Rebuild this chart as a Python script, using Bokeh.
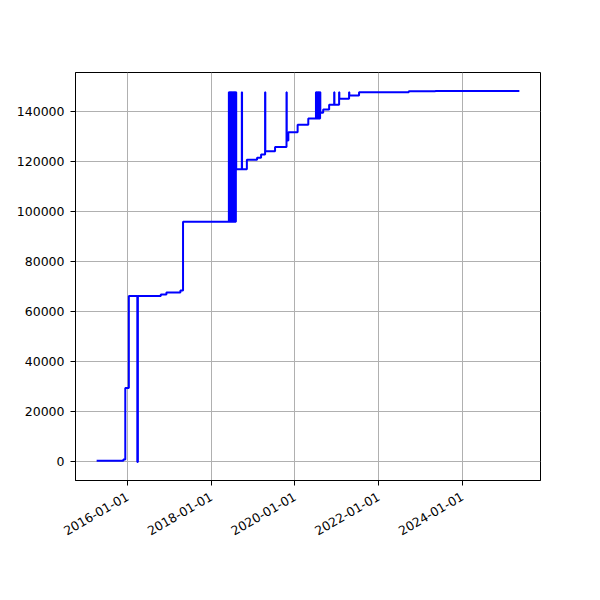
import math
import pandas as pd
from bokeh.plotting import figure
from bokeh.models import FixedTicker, DatetimeTickFormatter, Range1d, BasicTickFormatter
from bokeh.embed import file_html
from bokeh.resources import INLINE

# --- data ---
dates = [
    "2015-04-06", "2015-11-25", "2015-12-12", "2016-01-12",
    "2016-03-26", "2016-03-31",
    "2016-10-17", "2016-12-05", "2017-04-06", "2017-04-29",
    "2018-06-03", "2018-06-05", "2018-06-08", "2018-06-10", "2018-06-13", "2018-06-15",
    "2018-06-18", "2018-06-20", "2018-06-23", "2018-06-25", "2018-06-28", "2018-06-30",
    "2018-07-03", "2018-07-05", "2018-07-08", "2018-07-10", "2018-07-13", "2018-07-15",
    "2018-07-18", "2018-07-20", "2018-07-23", "2018-07-25", "2018-07-28", "2018-07-30",
    "2018-08-03", "2018-08-06",
    "2018-09-24", "2018-09-26",
    "2018-11-07", "2019-02-04", "2019-03-11",
    "2019-04-15", "2019-04-17",
    "2019-07-11",
    "2019-10-19", "2019-10-21", "2019-11-04",
    "2020-01-24", "2020-04-26",
    "2020-07-02", "2020-07-04", "2020-07-08", "2020-07-10", "2020-07-14", "2020-07-16",
    "2020-07-20", "2020-07-22", "2020-07-26", "2020-07-28", "2020-08-01", "2020-08-03",
    "2020-08-07", "2020-08-09",
    "2020-09-03", "2020-10-25",
    "2020-12-08", "2020-12-10",
    "2021-01-20", "2021-01-22",
    "2021-04-17", "2021-04-19",
    "2021-07-13", "2022-09-20", "2023-05-10", "2025-05-12",
]
values = [
    500, 1000, 29500, 66300,
    0, 66300,
    66900, 67700, 68500, 96000,
    147700, 96000, 147700, 96000, 147700, 96000,
    147700, 96000, 147700, 96000, 147700, 96000,
    147700, 96000, 147700, 96000, 147700, 96000,
    147700, 96000, 147700, 96000, 147700, 96000,
    147700, 117000,
    147700, 117000,
    120700, 121500, 122800,
    147700, 124100,
    125800,
    147700, 128400, 131700,
    134700, 137200,
    147700, 137200, 147700, 137200, 147700, 137200,
    147700, 137200, 147700, 137200, 147700, 137200,
    147700, 139500,
    140800, 142700,
    147700, 142700,
    147700, 145100,
    147700, 146400,
    147700, 148100, 148200, 148200,
]
tick_labels = ["2016-01-01", "2018-01-01", "2020-01-01", "2022-01-01", "2024-01-01"]
y_ticks = [0, 20000, 40000, 60000, 80000, 100000, 120000, 140000]

x = pd.to_datetime(dates)
tick_ms = [pd.Timestamp(t).value / 1e6 for t in tick_labels]

x0 = x.min().value / 1e6
x1 = x.max().value / 1e6
xpad = (x1 - x0) * 0.05
ymin, ymax = min(values), max(values)
ypad = (ymax - ymin) * 0.05

p = figure(
    x_axis_type="datetime",
    output_backend="svg",
    toolbar_location=None,
    width=584, height=584,
    frame_width=465, frame_height=408,
    min_border_left=75, min_border_right=44,
    min_border_top=72, min_border_bottom=104,
    x_range=Range1d(x0 - xpad, x1 + xpad),
    y_range=Range1d(ymin - ypad, ymax + ypad),
)
p.background_fill_color = "white"
p.border_fill_color = "white"
p.outline_line_color = "black"
p.outline_line_width = 1

p.step(x, values, mode="after", line_color="#0000ff", line_width=2)

p.xaxis.ticker = FixedTicker(ticks=tick_ms)
p.xaxis.formatter = DatetimeTickFormatter(
    days="%Y-%m-%d", months="%Y-%m-%d", years="%Y-%m-%d",
    hours="%Y-%m-%d", minutes="%Y-%m-%d", seconds="%Y-%m-%d",
    milliseconds="%Y-%m-%d", microseconds="%Y-%m-%d",
)
p.xaxis.major_label_orientation = math.pi / 6
p.xaxis.major_label_standoff = 10
p.yaxis.ticker = FixedTicker(ticks=y_ticks)
p.yaxis.formatter = BasicTickFormatter(use_scientific=False)
p.yaxis.major_label_standoff = 6

for ax in (p.xaxis, p.yaxis):
    ax.axis_line_color = "black"
    ax.major_tick_line_color = "black"
    ax.major_tick_in = 0
    ax.major_tick_out = 5
    ax.minor_tick_line_color = None
    ax.major_label_text_font = "DejaVu Sans"
    ax.major_label_text_font_size = "12.5px"
    ax.major_label_text_color = "black"

p.xgrid.ticker = FixedTicker(ticks=tick_ms)
p.ygrid.ticker = FixedTicker(ticks=y_ticks)
p.grid.grid_line_color = "#b0b0b0"
p.grid.grid_line_width = 1

open("out.html", "w").write(file_html(p, INLINE))
